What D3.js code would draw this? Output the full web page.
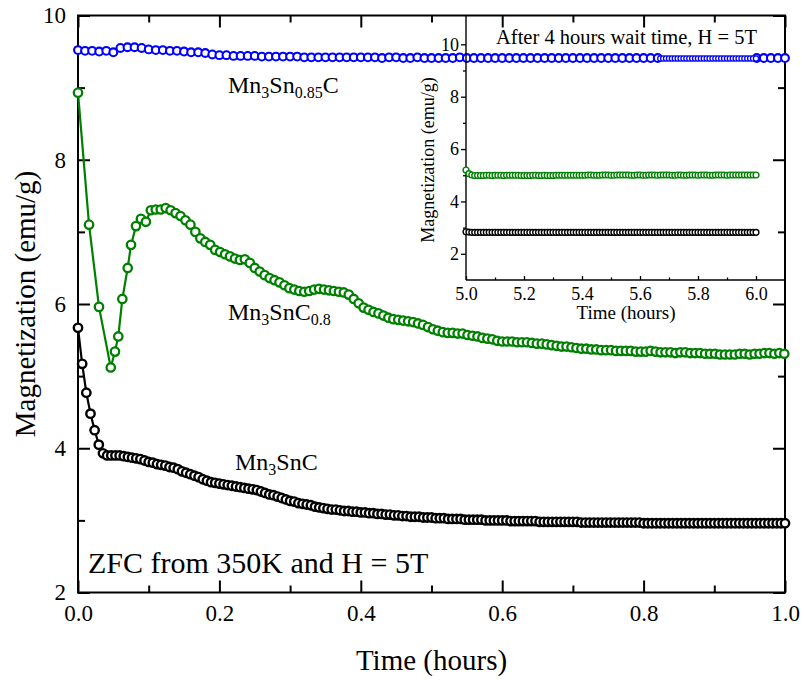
<!DOCTYPE html>
<html lang="en">
<head>
<meta charset="UTF-8">
<title>Magnetization relaxation</title>
<script src="https://d3js.org/d3.v7.min.js"></script>
<style>
  body { margin: 0; background: #fff; }
  svg text { font-family: "Liberation Serif", "Times New Roman", serif; fill: #000; }
  .axis path.domain { display: none; }
  .axis line { stroke: #000; }
</style>
</head>
<body>
<svg id="chart" width="804" height="683"></svg>
<script>
// ---- main panel data (time in hours, M in emu/g) ----
// Mn3SnC, sampled every 1/170 h
const blackStep = 1 / 170;
const blackM = [
  5.67, 5.17, 4.77, 4.48, 4.25, 4.05, 3.93, 3.90, 3.90, 3.90,
  3.90, 3.89, 3.88, 3.87, 3.86, 3.85, 3.83, 3.81, 3.80, 3.78,
  3.77, 3.76, 3.74, 3.73, 3.71, 3.68, 3.66, 3.64, 3.62, 3.60,
  3.57, 3.55, 3.53, 3.52, 3.51, 3.50, 3.49, 3.48, 3.47, 3.46,
  3.45, 3.44, 3.43, 3.42, 3.40, 3.38, 3.36, 3.35, 3.33, 3.31,
  3.29, 3.27, 3.26, 3.24, 3.23, 3.22, 3.21, 3.19, 3.18, 3.17,
  3.16, 3.15, 3.15, 3.14, 3.13, 3.13, 3.12, 3.12, 3.11, 3.11,
  3.10, 3.10, 3.09, 3.09, 3.08, 3.08, 3.07, 3.07, 3.06, 3.06,
  3.05, 3.05, 3.05, 3.04, 3.04, 3.04, 3.03, 3.03, 3.03, 3.02,
  3.02, 3.02, 3.02, 3.01, 3.01, 3.01, 3.01, 3.01, 3.00, 3.00,
  3.00, 3.00, 3.00, 3.00, 2.99, 2.99, 2.99, 2.99, 2.99, 2.99,
  2.99, 2.98, 2.98, 2.98, 2.98, 2.98, 2.98, 2.98, 2.98, 2.98,
  2.98, 2.97, 2.97, 2.97, 2.97, 2.97, 2.97, 2.97, 2.97, 2.97,
  2.97, 2.97, 2.97, 2.97, 2.97, 2.97, 2.96, 2.96, 2.96, 2.96,
  2.96, 2.96, 2.96, 2.96, 2.96, 2.96, 2.96, 2.96, 2.96, 2.96,
  2.96, 2.96, 2.96, 2.96, 2.96, 2.96, 2.96, 2.96, 2.96, 2.96,
  2.96, 2.96, 2.96, 2.96, 2.96, 2.96, 2.96, 2.96, 2.96, 2.96,
  2.96
];

// Mn3SnC0.8: first points are sparse, then every 0.007 h from 0.075 h
const greenEarlyT = [0, 0.0156, 0.0297, 0.0463, 0.0523, 0.057, 0.0627, 0.0703];
const greenEarlyM = [8.93, 7.10, 5.96, 5.12, 5.34, 5.55, 6.07, 6.50];
const greenStart = 0.075, greenStep = 0.007;
const greenM = [
  6.82, 7.08, 7.18, 7.14, 7.30, 7.31, 7.31, 7.33, 7.30, 7.26,
  7.22, 7.16, 7.10, 7.00, 6.91, 6.86, 6.82, 6.75, 6.72, 6.69,
  6.66, 6.63, 6.61, 6.62, 6.57, 6.50, 6.45, 6.40, 6.36, 6.33,
  6.30, 6.26, 6.22, 6.20, 6.18, 6.17, 6.18, 6.20, 6.21, 6.20,
  6.19, 6.18, 6.17, 6.16, 6.13, 6.07, 6.01, 5.95, 5.92, 5.89,
  5.87, 5.84, 5.81, 5.79, 5.78, 5.77, 5.76, 5.75, 5.73, 5.71,
  5.68, 5.65, 5.63, 5.61, 5.60, 5.60, 5.59, 5.59, 5.57, 5.56,
  5.55, 5.53, 5.52, 5.51, 5.49, 5.48, 5.48, 5.48, 5.47, 5.47,
  5.47, 5.46, 5.45, 5.45, 5.44, 5.43, 5.42, 5.41, 5.41, 5.40,
  5.39, 5.38, 5.38, 5.37, 5.37, 5.36, 5.36, 5.36, 5.35, 5.35,
  5.35, 5.35, 5.34, 5.34, 5.34, 5.35, 5.34, 5.33, 5.33, 5.33,
  5.32, 5.33, 5.33, 5.32, 5.32, 5.32, 5.31, 5.31, 5.31, 5.30,
  5.30, 5.30, 5.30, 5.31, 5.31, 5.30, 5.31, 5.31, 5.32, 5.32,
  5.31, 5.32, 5.31
];

// Mn3Sn0.85C, every 0.01 h (no points where the inset trace sits on it)
const blueStep = 0.01;
const blueM = [
  9.52, 9.51, 9.51, 9.50, 9.51, 9.49, 9.55, 9.56, 9.56, 9.55,
  9.53, 9.52, 9.52, 9.51, 9.51, 9.50, 9.49, 9.49, 9.48, 9.46,
  9.45, 9.45, 9.44, 9.44, 9.44, 9.44, 9.43, 9.43, 9.43, 9.43,
  9.43, 9.43, 9.42, 9.42, 9.42, 9.42, 9.42, 9.42, 9.42, 9.42,
  9.42, 9.42, 9.42, 9.41, 9.42, 9.42, 9.41, 9.41, 9.42, 9.41,
  9.41, 9.41, 9.41, 9.41, 9.42, 9.41, 9.41, 9.41, 9.41, 9.41,
  9.41, 9.41, 9.41, 9.41, 9.41, 9.41, 9.41, 9.41, 9.41, 9.41,
  9.41, 9.41, 9.41, 9.41, 9.41, 9.41, 9.41, 9.41, 9.41, 9.41,
  9.41, 9.41, 9.41, null, null, null, null, null, null, null,
  null, null, null, null, null, null, 9.41, 9.41, 9.41, 9.41,
  9.41
];

// ---- inset data (after 4 h wait), every 0.01 h from 5.0 h ----
const insetStart = 5.0, insetStep = 0.01;
const insetBlackM = [
  2.84, 2.83, 2.82, 2.82, 2.82, 2.82, 2.82, 2.82, 2.82, 2.82,
  2.82, 2.82, 2.82, 2.82, 2.82, 2.82, 2.82, 2.82, 2.82, 2.82,
  2.82, 2.82, 2.82, 2.82, 2.82, 2.82, 2.82, 2.82, 2.82, 2.82,
  2.82, 2.82, 2.82, 2.82, 2.82, 2.82, 2.82, 2.82, 2.82, 2.82,
  2.82, 2.82, 2.82, 2.82, 2.82, 2.82, 2.82, 2.82, 2.82, 2.82,
  2.82, 2.82, 2.82, 2.82, 2.82, 2.82, 2.82, 2.82, 2.82, 2.82,
  2.82, 2.82, 2.82, 2.82, 2.82, 2.82, 2.82, 2.82, 2.82, 2.82,
  2.82, 2.82, 2.82, 2.82, 2.82, 2.82, 2.82, 2.82, 2.82, 2.82,
  2.82, 2.82, 2.82, 2.82, 2.82, 2.82, 2.82, 2.82, 2.82, 2.82,
  2.82, 2.82, 2.82, 2.82, 2.82, 2.82, 2.82, 2.82, 2.82, 2.82,
  2.82
];
const insetGreenM = [
  5.20, 5.06, 5.01, 4.99, 4.99, 4.99, 4.99, 5.00, 5.00, 4.99,
  5.00, 5.00, 5.00, 4.99, 5.00, 5.00, 5.00, 5.00, 5.00, 4.99,
  4.99, 4.99, 4.99, 5.00, 5.00, 4.99, 4.99, 5.00, 4.99, 4.99,
  4.99, 5.00, 5.00, 5.00, 5.00, 5.00, 5.00, 5.00, 5.00, 5.00,
  5.00, 5.00, 5.01, 5.01, 5.00, 5.00, 5.00, 5.01, 5.01, 5.01,
  5.00, 5.00, 5.01, 5.01, 5.01, 5.01, 5.01, 5.00, 5.00, 5.01,
  5.01, 5.00, 5.00, 5.01, 5.01, 5.01, 5.00, 5.01, 5.01, 5.01,
  5.01, 5.00, 5.00, 5.01, 5.01, 5.00, 5.00, 5.01, 5.01, 5.01,
  5.00, 5.01, 5.01, 5.01, 5.00, 5.00, 5.01, 5.01, 5.01, 5.01,
  5.00, 5.01, 5.01, 5.01, 5.01, 5.01, 5.01, 5.01, 5.01, 5.01,
  5.01
];
const insetBlueStart = 5.67;
const insetBlueM = [
  9.46, 9.46, 9.46, 9.46, 9.46, 9.46, 9.46, 9.46, 9.46, 9.46,
  9.46, 9.46, 9.46, 9.46, 9.46, 9.46, 9.46, 9.46, 9.46, 9.46,
  9.46, 9.46, 9.46, 9.46, 9.46, 9.46, 9.46, 9.46, 9.46, 9.46,
  9.46, 9.46, 9.46, 9.46
];

const xMajor = [0, 0.2, 0.4, 0.6, 0.8, 1.0];
const xMinor = [0.1, 0.3, 0.5, 0.7, 0.9];
const yMajor = [2, 4, 6, 8, 10];
const yMinor = [3, 5, 7, 9];
const insetXMajor = [5.0, 5.2, 5.4, 5.6, 5.8, 6.0];
const insetXMinor = [5.1, 5.3, 5.5, 5.7, 5.9];
const insetYMajor = [2, 4, 6, 8, 10];
const insetYMinor = [3, 5, 7, 9];

const serif = '"Liberation Serif", "Times New Roman", serif';
const BLACK = "#000000", GREEN = "#008000", BLUE = "#0000ff";

// ---- build point lists ----
const blackPts = blackM.map((m, i) => ({t: i * blackStep, m}));
const greenPts = greenEarlyT.map((t, i) => ({t, m: greenEarlyM[i]}))
  .concat(greenM.map((m, k) => ({t: greenStart + k * greenStep, m})));
const bluePts = blueM.map((m, i) => ({t: i * blueStep, m}));
const iBlackPts = insetBlackM.map((m, i) => ({t: insetStart + i * insetStep, m}));
const iGreenPts = insetGreenM.map((m, i) => ({t: insetStart + i * insetStep, m}));
const iBluePts = insetBlueM.map((m, i) => ({t: insetBlueStart + i * insetStep, m}));

const svg = d3.select("#chart");

// main scales
const x = d3.scaleLinear().domain([0, 1]).range([78, 785]);
const y = d3.scaleLinear().domain([2, 10]).range([592.5, 15.5]);

// inset scales
const xi = d3.scaleLinear().domain([5.0, 6.1]).range([466, 785]);
const yi = d3.scaleLinear().domain([1, 11.1]).range([280, 15.5]);

function styleAxis(g, size, width) {
  g.attr("font-family", serif).attr("font-size", size);
  g.selectAll("line").attr("stroke-width", width);
}

// ---- main axes (ticks inside, box) ----
svg.append("g").attr("class", "axis")
  .attr("transform", "translate(0,592.5)")
  .call(d3.axisBottom(x).tickValues(xMajor).tickSize(-12).tickSizeOuter(0)
    .tickPadding(12).tickFormat(d3.format(".1f")))
  .call(g => styleAxis(g, 23, 2));
svg.append("g").attr("class", "axis")
  .attr("transform", "translate(0,592.5)")
  .call(d3.axisBottom(x).tickValues(xMinor).tickSize(-7).tickSizeOuter(0).tickFormat(""))
  .call(g => styleAxis(g, 23, 2));
svg.append("g").attr("class", "axis")
  .attr("transform", "translate(0,15.5)")
  .call(d3.axisTop(x).tickValues(xMajor).tickSize(-12).tickSizeOuter(0).tickFormat(""))
  .call(g => styleAxis(g, 23, 2));
svg.append("g").attr("class", "axis")
  .attr("transform", "translate(0,15.5)")
  .call(d3.axisTop(x).tickValues(xMinor).tickSize(-7).tickSizeOuter(0).tickFormat(""))
  .call(g => styleAxis(g, 23, 2));

svg.append("g").attr("class", "axis")
  .attr("transform", "translate(78,0)")
  .call(d3.axisLeft(y).tickValues(yMajor).tickSize(-12).tickSizeOuter(0)
    .tickPadding(12).tickFormat(d3.format("d")))
  .call(g => styleAxis(g, 23, 2));
svg.append("g").attr("class", "axis")
  .attr("transform", "translate(78,0)")
  .call(d3.axisLeft(y).tickValues(yMinor).tickSize(-7).tickSizeOuter(0).tickFormat(""))
  .call(g => styleAxis(g, 23, 2));
svg.append("g").attr("class", "axis")
  .attr("transform", "translate(785,0)")
  .call(d3.axisRight(y).tickValues(yMajor).tickSize(-12).tickSizeOuter(0).tickFormat(""))
  .call(g => styleAxis(g, 23, 2));
svg.append("g").attr("class", "axis")
  .attr("transform", "translate(785,0)")
  .call(d3.axisRight(y).tickValues(yMinor).tickSize(-7).tickSizeOuter(0).tickFormat(""))
  .call(g => styleAxis(g, 23, 2));

svg.append("rect")
  .attr("x", 78).attr("y", 15.5).attr("width", 707).attr("height", 577)
  .attr("fill", "none").attr("stroke", "#000").attr("stroke-width", 2);

// axis titles
svg.append("text")
  .attr("x", 431.5).attr("y", 670)
  .attr("text-anchor", "middle").attr("font-size", 29)
  .text("Time (hours)");
svg.append("text")
  .attr("transform", "translate(35,304) rotate(-90)")
  .attr("text-anchor", "middle").attr("font-size", 29)
  .text("Magnetization (emu/g)");

// ---- series ----
function drawSeries(pts, xs, ys, color, r, sw, lw) {
  const g = svg.append("g");
  const line = d3.line().defined(d => d.m != null).x(d => xs(d.t)).y(d => ys(d.m));
  if (lw > 0) {
    g.append("path").datum(pts).attr("d", line)
      .attr("fill", "none").attr("stroke", color).attr("stroke-width", lw);
  }
  g.selectAll("circle").data(pts.filter(d => d.m != null)).enter().append("circle")
    .attr("cx", d => xs(d.t)).attr("cy", d => ys(d.m)).attr("r", r)
    .attr("fill", "#fff").attr("stroke", color).attr("stroke-width", sw);
}

drawSeries(bluePts, x, y, BLUE, 3.9, 2.1, 1.5);
drawSeries(greenPts, x, y, GREEN, 4.2, 2.3, 2.2);
drawSeries(blackPts, x, y, BLACK, 4.2, 2.4, 2.2);

// ---- labels ----
function compound(px, py, parts, size, subSize) {
  const t = svg.append("text").attr("x", px).attr("y", py).attr("font-size", size);
  let down = false;
  parts.forEach(([s, sub]) => {
    const dy = sub && !down ? 5 : (!sub && down ? -5 : 0);
    down = !!sub;
    t.append("tspan").attr("font-size", sub ? subSize : size).attr("dy", dy).text(s);
  });
}
compound(228, 93, [["Mn", 0], ["3", 1], ["Sn", 0], ["0.85", 1], ["C", 0]], 24, 16);
compound(228, 320, [["Mn", 0], ["3", 1], ["SnC", 0], ["0.8", 1]], 24, 16);
compound(235, 470, [["Mn", 0], ["3", 1], ["SnC", 0]], 24, 16);

svg.append("text").attr("x", 88).attr("y", 573).attr("font-size", 30)
  .text("ZFC from 350K and H = 5T");

// ---- inset ----
svg.append("g").attr("class", "axis")
  .attr("transform", "translate(466,0)")
  .call(d3.axisLeft(yi).tickValues(insetYMajor).tickSize(5).tickSizeOuter(0)
    .tickPadding(2).tickFormat(d3.format("d")))
  .call(g => styleAxis(g, 18, 1.3));
svg.append("g").attr("class", "axis")
  .attr("transform", "translate(466,0)")
  .call(d3.axisLeft(yi).tickValues(insetYMinor).tickSize(3).tickSizeOuter(0).tickFormat(""))
  .call(g => styleAxis(g, 18, 1.3));
svg.append("g").attr("class", "axis")
  .attr("transform", "translate(0,280)")
  .call(d3.axisBottom(xi).tickValues(insetXMajor).tickSize(-4).tickSizeOuter(0)
    .tickPadding(7).tickFormat(d3.format(".1f")))
  .call(g => styleAxis(g, 18, 1.3));
svg.append("g").attr("class", "axis")
  .attr("transform", "translate(0,280)")
  .call(d3.axisBottom(xi).tickValues(insetXMinor).tickSize(-2.5).tickSizeOuter(0).tickFormat(""))
  .call(g => styleAxis(g, 18, 1.3));

svg.append("line").attr("x1", 466).attr("x2", 466).attr("y1", 15.5).attr("y2", 280)
  .attr("stroke", "#000").attr("stroke-width", 1.4);
svg.append("line").attr("x1", 466).attr("x2", 785).attr("y1", 280).attr("y2", 280)
  .attr("stroke", "#000").attr("stroke-width", 1.4);

svg.append("text").attr("x", 626).attr("y", 319)
  .attr("text-anchor", "middle").attr("font-size", 19)
  .text("Time (hours)");
svg.append("text")
  .attr("transform", "translate(434,160) rotate(-90)")
  .attr("text-anchor", "middle").attr("font-size", 18)
  .text("Magnetization (emu/g)");
svg.append("text").attr("x", 626.5).attr("y", 44)
  .attr("text-anchor", "middle").attr("font-size", 20.5)
  .text("After 4 hours wait time, H = 5T");

drawSeries(iBluePts, xi, yi, BLUE, 2.6, 1.3, 0);
drawSeries(iGreenPts, xi, yi, GREEN, 2.9, 1.4, 0);
drawSeries(iBlackPts, xi, yi, BLACK, 2.9, 1.4, 0);
</script>
</body>
</html>
